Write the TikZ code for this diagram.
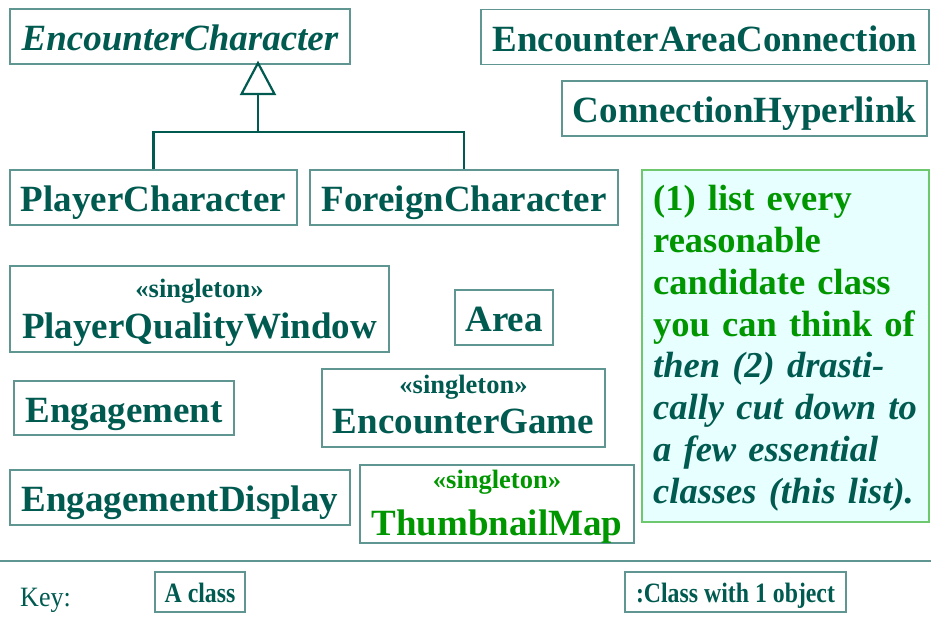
\documentclass[tikz,border=0pt]{standalone}
\usepackage{fontspec}
\setmainfont{Liberation Serif}
\definecolor{ink}{RGB}{0,90,80}
\definecolor{frame}{RGB}{95,150,145}
\definecolor{leaf}{RGB}{0,150,0}
\definecolor{notefill}{RGB}{232,255,255}
\definecolor{noteframe}{RGB}{110,200,110}
\tikzset{
  cls/.style={draw=frame, line width=1.4pt, inner sep=0pt, text=ink,
    font=\fontsize{37}{42}\selectfont\bfseries,
    text height=28pt, text depth=0pt, minimum height=55pt},
  stereo/.style={inner sep=0pt, text=ink, anchor=base,
    font=\fontsize{26.5}{28}\selectfont\bfseries},
  gen/.style={draw=ink, line width=2.2pt},
  keybox/.style={draw=frame, line width=1.4pt, inner sep=0pt, text=ink,
    font=\fontsize{28}{30}\selectfont\bfseries,
    minimum height=40pt, text height=20pt, text depth=0pt},
  notebox/.style={draw=noteframe, fill=notefill, line width=1.4pt, inner sep=0pt},
  notetext/.style={inner sep=0pt, text=leaf, text width=276pt, align=left,
    font=\fontsize{36.5}{41.8}\selectfont\bfseries},
}
\begin{document}
\begin{tikzpicture}[x=1pt, y=-1pt]
\useasboundingbox (0,0) rectangle (931,625);

% classes
\node[cls, minimum width=340pt, font=\fontsize{37}{42}\selectfont\bfseries\itshape] (ec) at (180,36.5) {EncounterCharacter};
\node[cls, minimum width=448pt] (eac) at (705,37) {EncounterAreaConnection};
\node[cls, minimum width=365pt] (ch) at (744.5,108.5) {ConnectionHyperlink};
\node[cls, minimum width=287pt] (pc) at (153.5,197.5) {PlayerCharacter};
\node[cls, minimum width=308pt] (fc) at (464,197.5) {ForeignCharacter};
\node[cls, minimum width=379pt, minimum height=86pt, text height=58pt] (pqw) at (199.5,309) {PlayerQualityWindow};
\node[stereo] (pqws) at (199.5,297) {«singleton»};
\node[cls, minimum width=98pt] (area) at (504,317.5) {Area};
\node[cls, minimum width=220pt, minimum height=54pt] (eng) at (124,408) {Engagement};
\node[cls, minimum width=283pt, minimum height=78pt, text height=50pt] (eg) at (463.5,408) {EncounterGame};
\node[stereo] (egs) at (463.5,393) {«singleton»};
\node[cls, minimum width=340pt] (ed) at (180,497.5) {EngagementDisplay};
\node[cls, minimum width=274pt, minimum height=78pt, text height=62pt, text=leaf] (tm) at (497,504) {ThumbnailMap};
\node[stereo, text=leaf] (tms) at (497,488) {«singleton»};

% generalisation
\coordinate (apex) at (258,63);
\coordinate (tribase) at (258,94);
\coordinate (join) at (258,132);
\draw[gen] (pc.north) |- (join) -| (fc.north);
\draw[gen] (join) -- (tribase);
\draw[gen, fill=white, line join=miter] (apex) -- (241.5,94) -- (274.5,94) -- cycle;

% note
\node[notebox, minimum width=287pt, minimum height=352pt] (note) at (785.5,346) {};
\node[notetext, anchor=base west] (notetext) at (653,210.7) {(1) list every\\
reasonable\\
candidate class\\
you can think of\\
\color{ink}\itshape then (2) drasti-\\
cally cut down to\\
a few essential\\
classes (this list).};

% key
\coordinate (ruleL) at (0,561);
\coordinate (ruleR) at (931,561);
\draw[frame, line width=1.4pt] (ruleL) -- (ruleR);
\node[inner sep=0pt, text=ink, anchor=base west, font=\fontsize{28}{30}\selectfont] (key) at (20,606) {\scalebox{0.93}[1]{Key:}};
\node[keybox, minimum width=90pt] (k1) at (200,592) {\scalebox{0.85}[1]{A class}};
\node[keybox, minimum width=221pt] (k2) at (735.5,592) {\scalebox{0.85}[1]{:Class with 1 object}};
\end{tikzpicture}
\end{document}
